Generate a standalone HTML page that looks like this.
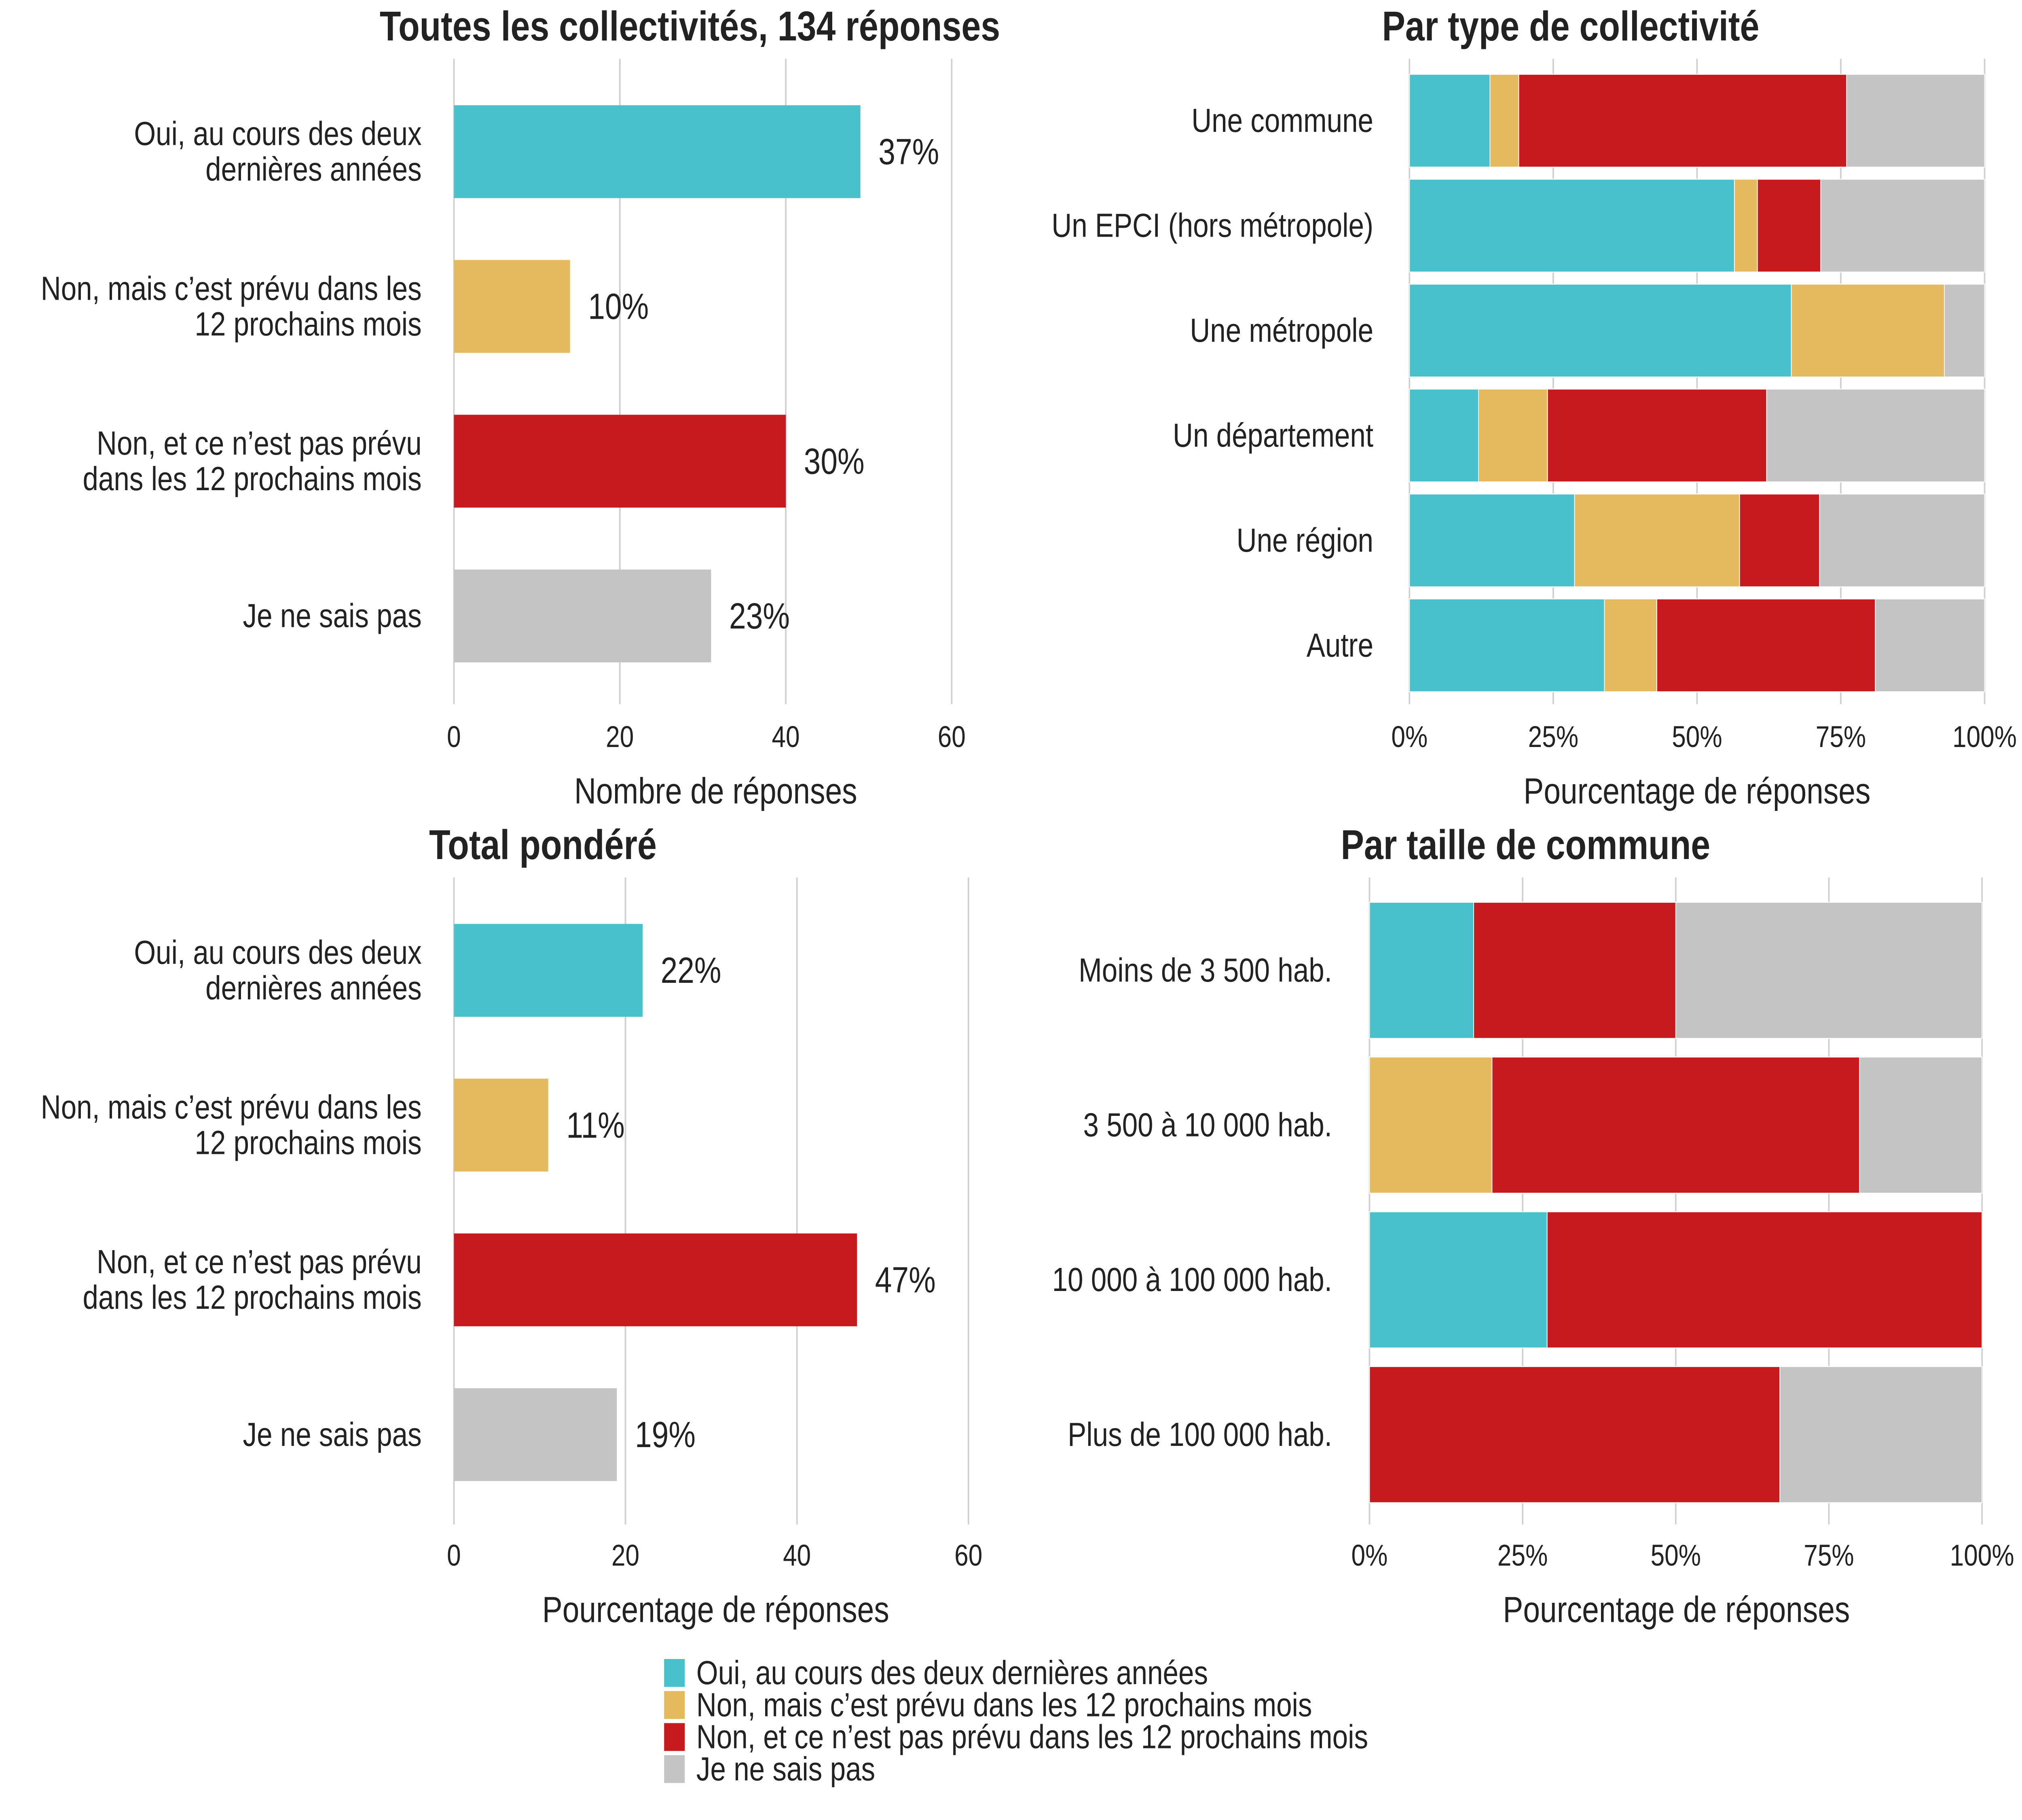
<!DOCTYPE html>
<html><head><meta charset="utf-8">
<style>
html,body{margin:0;padding:0;background:#fff;overflow:hidden;}
svg{display:block;width:5000px;height:4500px;}
text{font-family:"Liberation Sans","DejaVu Sans",sans-serif;fill:#222;}
</style></head>
<body>
<svg id="root" width="5000" height="4500" xmlns="http://www.w3.org/2000/svg"><g id="chart" transform="scale(3.18878,3.8265)"></g></svg>
<script>
const colors = ["#48c1cc", "#e5ba5e", "#c71a1e", "#c4c4c4"];
const answerLabels = ["Oui, au cours des deux dernières années", "Non, mais c’est prévu dans les 12 prochains mois", "Non, et ce n’est pas prévu dans les 12 prochains mois", "Je ne sais pas"];
const answerLines = [["Oui, au cours des deux", "dernières années"], ["Non, mais c’est prévu dans les", "12 prochains mois"], ["Non, et ce n’est pas prévu", "dans les 12 prochains mois"], ["Je ne sais pas"]];

const p1Counts = [49, 14, 40, 31];
const p1Labels = ["37%", "10%", "30%", "23%"];
const p1Ticks = [0, 20, 40, 60];

const p3Values = [22, 11, 47, 19];
const p3Labels = ["22%", "11%", "47%", "19%"];
const p3Ticks = [0, 20, 40, 60];

const p2Cats = ["Une commune", "Un EPCI (hors métropole)", "Une métropole", "Un département", "Une région", "Autre"];
const p2Oui = [14, 56.5, 66.4, 12, 28.7, 33.9];
const p2Prevu = [5, 4, 26.6, 12, 28.7, 9.1];
const p2NonPrevu = [57, 11, 0, 38.1, 13.9, 38];
const p2NeSaisPas = [24, 28.5, 7, 37.9, 28.7, 19];

const p4Cats = ["Moins de 3 500 hab.", "3 500 à 10 000 hab.", "10 000 à 100 000 hab.", "Plus de 100 000 hab."];
const p4Oui = [17, 0, 29, 0];
const p4Prevu = [0, 20, 0, 0];
const p4NonPrevu = [33, 60, 71, 67];
const p4NeSaisPas = [50, 20, 0, 33];

const pctTicks = [0, 25, 50, 75, 100];
const pctTickLabels = ["0%", "25%", "50%", "75%", "100%"];

const svg = document.getElementById('chart');
const NS = "http://www.w3.org/2000/svg";
function mk(tag, attrs, parent) {
  const e = document.createElementNS(NS, tag);
  for (const k in attrs) e.setAttribute(k, attrs[k]);
  (parent || svg).appendChild(e);
  return e;
}
function txt(str, x, y, size, anchor, weight, parent) {
  const t = mk('text', {x: x, y: y, 'font-size': size, 'text-anchor': anchor || 'start', 'dominant-baseline': 'central'}, parent);
  if (weight) t.setAttribute('font-weight', weight);
  t.textContent = str;
  return t;
}

function simplePanel(name, title, titleX, titleY, vals, labels, ticks, x0, x1, maxV, rowY0, gridTop, gridBot, tickY, axisTitle, axisX, axisY) {
  const g = mk('g', {});
  
  
  const sx = v => x0 + (v / maxV) * (x1 - x0);
  ticks.forEach(t => {
    if (t > 0) {
      const l = mk('line', {x1: sx(t), x2: sx(t), y1: gridTop, y2: gridBot, stroke: '#d0d0d0', 'stroke-width': 1.2}, g);
      
      
    }
    const tl = txt(String(t), sx(t), tickY, 19.5, 'middle', null, g);
    
    
  });
  const axl = mk('line', {x1: x0, x2: x0, y1: gridTop, y2: gridBot, stroke: '#d0d0d0', 'stroke-width': 1.2}, g);
  
  
  vals.forEach((v, i) => {
    const cy = rowY0 + i * 100;
    const r = mk('rect', {x: x0, y: cy - 30, width: sx(v) - x0, height: 60, fill: colors[i]}, g);
    
    
    const vl = txt(labels[i], sx(v) + 14, cy, 23.5, 'start', null, g);
    
    
    const lines = answerLines[i];
    lines.forEach((ln, j) => {
      const yy = cy + (j - (lines.length - 1) / 2) * 23;
      const cl = txt(ln, 327, yy, 21.7, 'end', null, g);
      
      
    });
  });
  const tt = txt(title, titleX, titleY, 27, 'middle', 'bold', g);
  
  
  const at = txt(axisTitle, axisX, axisY, 23.5, 'middle', null, g);
  
  
}

simplePanel('panel-toutes', 'Toutes les collectivités, 134 réponses', 535, 17, p1Counts, p1Labels, p1Ticks, 352, 738, 60, 98, 38, 455, 476, 'Nombre de réponses', 555, 511);
simplePanel('panel-total-pondere', 'Total pondéré', 421, 546, p3Values, p3Labels, p3Ticks, 352, 751, 60, 627, 567, 985, 1005, 'Pourcentage de réponses', 555, 1040);

function stackPanel(name, title, titleX, titleY, cats, series, x0, x1, rowY0, step, h, labelX, gridTop, gridBot, tickY, axisX, axisY) {
  const g = mk('g', {});
  
  
  const sx = v => x0 + (v / 100) * (x1 - x0);
  pctTicks.forEach((t, k) => {
    const l = mk('line', {x1: sx(t), x2: sx(t), y1: gridTop, y2: gridBot, stroke: '#d0d0d0', 'stroke-width': 1.2}, g);
    
    
    const tl = txt(pctTickLabels[k], sx(t), tickY, 19.5, 'middle', null, g);
    
    
  });
  cats.forEach((c, i) => {
    const cy = rowY0 + i * step;
    let acc = 0;
    series.forEach((s, j) => {
      const v = s[i];
      if (v > 0) {
        const r = mk('rect', {x: sx(acc), y: cy - h / 2, width: sx(acc + v) - sx(acc), height: h, fill: colors[j], stroke: '#fff', 'stroke-width': 0.6}, g);
        
        
      }
      acc += v;
    });
    const cl = txt(c, labelX, cy, 21.7, 'end', null, g);
    
    
  });
  const tt = txt(title, titleX, titleY, 27, 'middle', 'bold', g);
  
  
  const at = txt('Pourcentage de réponses', axisX, axisY, 23.5, 'middle', null, g);
  
  
}

stackPanel('panel-type', 'Par type de collectivité', 1218, 17, p2Cats, [p2Oui, p2Prevu, p2NonPrevu, p2NeSaisPas], 1093, 1539, 78, 67.8, 60, 1065, 38, 455, 476, 1316, 511);
stackPanel('panel-taille', 'Par taille de commune', 1183, 546, p4Cats, [p4Oui, p4Prevu, p4NonPrevu, p4NeSaisPas], 1062, 1537, 627, 100, 88, 1033, 567, 985, 1005, 1300, 1040);

const lg = mk('g', {});


answerLabels.forEach((a, i) => {
  const y = 1081 + i * 20.7;
  const r = mk('rect', {x: 515, y: y - 9, width: 16, height: 18, fill: colors[i]}, lg);
  
  
  const t = txt(a, 540, y, 21.7, 'start', null, lg);
  
  
});
</script>
</body></html>
